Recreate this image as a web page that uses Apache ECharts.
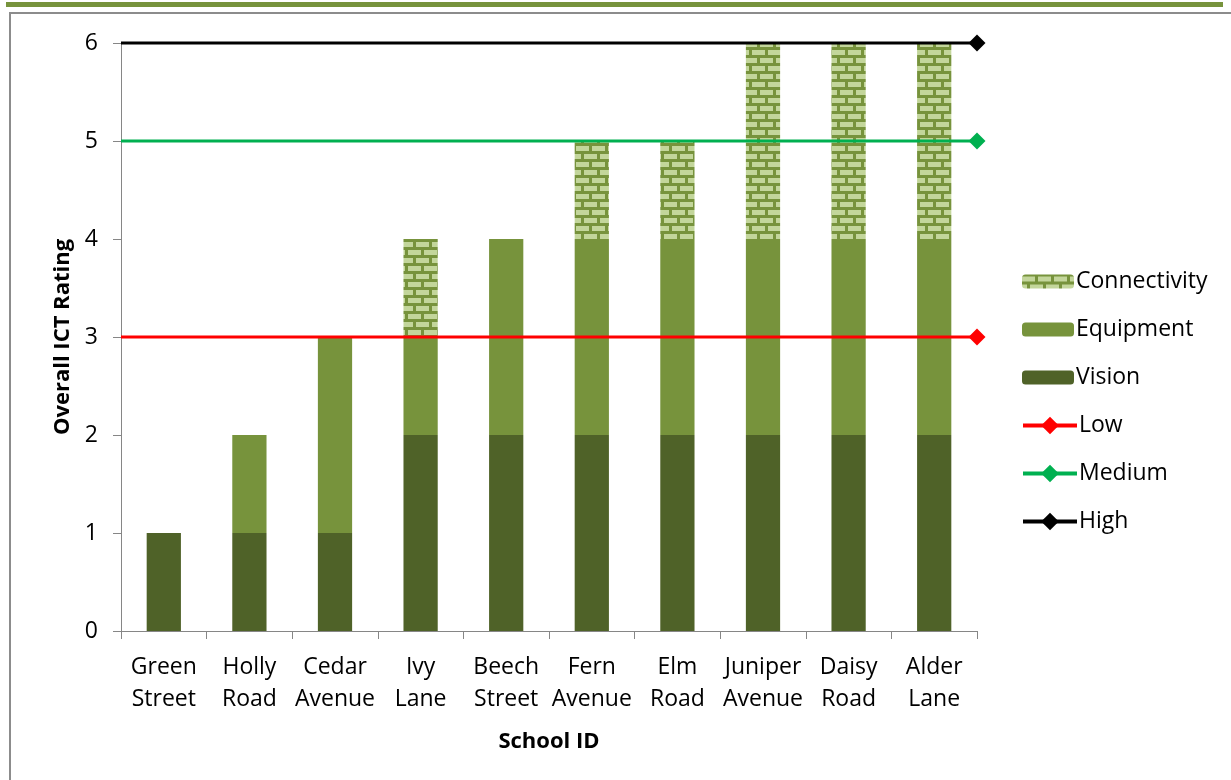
<!DOCTYPE html>
<html>
<head>
<meta charset="utf-8">
<script src="https://cdn.jsdelivr.net/npm/echarts@6/dist/echarts.min.js"></script>
<style>
  body { margin: 0; background: #fff; }
  #topBar { position: absolute; left: 6px; top: 2px; width: 1217px; height: 5px; background: #77933c; }
  #frame { position: absolute; left: 9px; top: 12px; width: 1222px; height: 768px;
           border-left: 2px solid #8c8c8c; border-top: 2px solid #8c8c8c; }
  #main { position: absolute; left: 0; top: 0; width: 1231px; height: 780px; }
</style>
</head>
<body>
<div id="topBar"></div>
<div id="frame"></div>
<div id="main"></div>
<script>
// school names (x axis)
var schools = ["Green Street", "Holly Road", "Cedar Avenue", "Ivy Lane", "Beech Street",
  "Fern Avenue", "Elm Road", "Juniper Avenue", "Daisy Road", "Alder Lane"];
// stacked ratings per school
var vision       = [1, 1, 1, 2, 2, 2, 2, 2, 2, 2];
var equipment    = [0, 1, 2, 1, 2, 2, 2, 2, 2, 2];
var connectivity = [0, 0, 0, 1, 0, 1, 1, 2, 2, 2];
// threshold lines
var levelNames  = ["Low", "Medium", "High"];
var levelValues = [3, 5, 6];
var levelColors = ["#ff0000", "#00b050", "#000000"];

// brick pattern for connectivity
function brickPattern() {
  var c = document.createElement("canvas");
  c.width = 16; c.height = 16;
  var ctx = c.getContext("2d");
  ctx.fillStyle = "#77933c";
  ctx.fillRect(0, 0, 16, 16);
  ctx.fillStyle = "#c3d69b";
  // row 1
  ctx.fillRect(0, 2, 13, 5);
  // row 2 (offset)
  ctx.fillRect(8, 10, 13, 5);
  ctx.fillRect(-8, 10, 13, 5);
  return c;
}

var font = "Open Sans";
var myChart = echarts.init(document.getElementById("main"));

var series = [
  { name: "Vision", type: "bar", stack: "r", barWidth: "40%", data: vision,
    itemStyle: { color: "#4f6228" } },
  { name: "Equipment", type: "bar", stack: "r", data: equipment,
    itemStyle: { color: "#77933c" } },
  { name: "Connectivity", type: "bar", stack: "r", data: connectivity,
    itemStyle: { color: { image: brickPattern(), repeat: "repeat" } } }
];
for (var i = 0; i < levelNames.length; i++) {
  series.push({
    name: levelNames[i],
    type: "line",
    xAxisIndex: 1,
    clip: false,
    symbol: "diamond",
    symbolSize: 17,
    lineStyle: { color: levelColors[i], width: 3 },
    itemStyle: { color: levelColors[i] },
    z: 5,
    data: [{ value: [0, levelValues[i]], symbol: "none" }, [1, levelValues[i]]]
  });
}

var legendText = { fontFamily: font, fontSize: 23, color: "#000", padding: [0, 0, 0, -3] };

myChart.setOption({
  animation: false,
  textStyle: { fontFamily: font, color: "#000" },
  grid: { left: 121, right: 254, top: 43, bottom: 149 },
  legend: [
    {
      orient: "vertical",
      left: 1017,
      top: 265,
      itemWidth: 52,
      itemHeight: 14,
      itemGap: 25,
      textStyle: legendText,
      data: ["Connectivity", "Equipment", "Vision"]
    },
    {
      orient: "vertical",
      left: 1016,
      top: 409,
      itemWidth: 54,
      itemHeight: 22,
      itemGap: 25,
      textStyle: legendText,
      lineStyle: { width: 4 },
      data: ["Low", "Medium", "High"]
    }
  ],
  xAxis: [
    {
      type: "category",
      data: schools,
      name: "School ID",
      nameLocation: "middle",
      nameGap: 100,
      nameTextStyle: { fontFamily: font, fontSize: 22, fontWeight: "bold", color: "#000" },
      axisLine: { lineStyle: { color: "#868686", width: 1 } },
      axisTick: { show: true, length: 8, lineStyle: { color: "#868686" } },
      axisLabel: {
        interval: 0,
        margin: 20,
        fontSize: 23,
        lineHeight: 32,
        color: "#000",
        formatter: function (v) { return v.replace(" ", "\n"); }
      }
    },
    { type: "value", min: 0, max: 1, show: false }
  ],
  yAxis: {
    type: "value",
    min: 0,
    max: 6,
    interval: 1,
    name: "Overall ICT Rating",
    nameLocation: "middle",
    nameGap: 47,
    nameTextStyle: { fontFamily: font, fontSize: 22, fontWeight: "bold", color: "#000" },
    axisLine: { show: true, lineStyle: { color: "#868686", width: 1 } },
    axisTick: { show: true, length: 8, lineStyle: { color: "#868686" } },
    splitLine: { show: false },
    axisLabel: { margin: 23, fontSize: 23, color: "#000" }
  },
  series: series
});
</script>
</body>
</html>
